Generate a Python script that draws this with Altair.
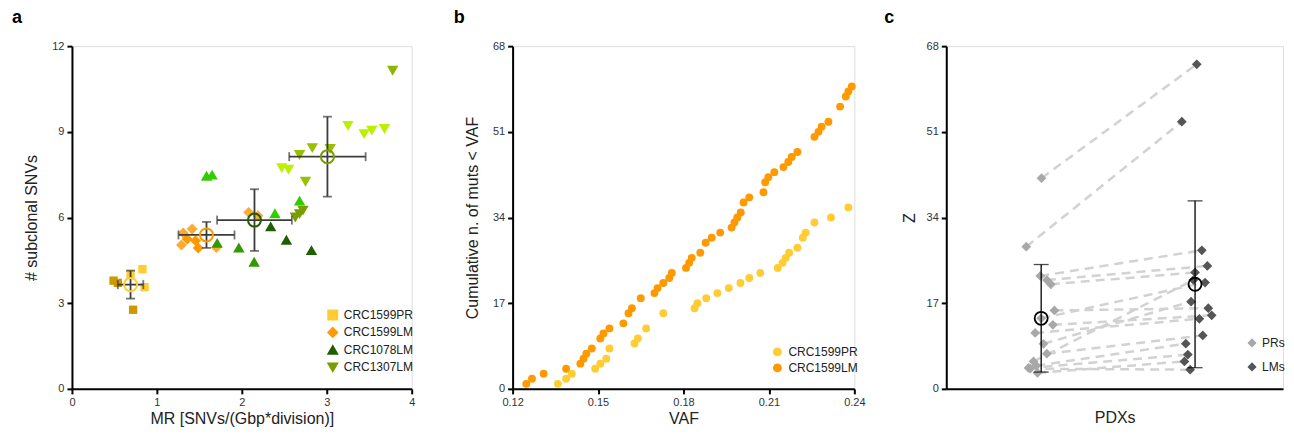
import altair as alt
import pandas as pd

FONT = "Liberation Sans"

# ---------------- Panel a ----------------
A_SERIES = ["CRC1599PR", "CRC1599LM", "CRC1078LM", "CRC1307LM"]
A_COLORS = ["#FFCC33", "#FF9900", "#1F5F00", "#7A9E00"]
A_SHAPES = ["square", "diamond", "triangle-up", "triangle-down"]

pr1599_mr = [0.49, 0.54, 0.72, 0.83, 0.855, 0.69]
pr1599_snv = [3.79, 3.71, 2.77, 4.19, 3.56, 4.02]
pr1599_shade = ["#CC9900", "#CC9900", "#CC9900", "#FFCC33", "#FFCC33", "#FFCC33"]

lm1599_mr = [1.31, 1.415, 1.357, 1.29, 1.455, 1.486, 1.70, 2.08, 2.19]
lm1599_snv = [5.46, 5.60, 5.25, 5.04, 5.19, 4.93, 4.95, 6.18, 6.06]
lm1599_shade = ["#FFAA33", "#FFAA33", "#FF9900", "#FFAA33", "#FF9900", "#FF9900",
                "#FFAA33", "#FFAA33", "#FFAA33"]

lm1078_mr = [1.585, 1.65, 1.71, 1.965, 2.145, 2.39, 2.34, 2.525, 2.82, 2.68]
lm1078_snv = [7.46, 7.50, 5.11, 4.95, 4.45, 6.15, 5.69, 5.22, 4.86, 6.59]
lm1078_shade = ["#33CC00", "#33CC00", "#339900", "#339900", "#339900", "#33CC00",
                "#1F5F00", "#1F5F00", "#1F5F00", "#33CC00"]

lm1307_mr = [3.776, 3.25, 3.44, 3.53, 3.68, 2.83, 3.04, 2.68, 2.47, 2.55, 2.75, 2.63, 2.68, 2.72]
lm1307_snv = [11.14, 9.21, 8.92, 9.04, 9.10, 8.43, 8.40, 8.19, 7.73, 7.67, 7.25, 6.00, 6.12, 6.24]
lm1307_shade = ["#8DB600", "#BBF000", "#BBF000", "#BBF000", "#BBF000", "#99C000", "#99C000",
                "#99C000", "#BBF000", "#BBF000", "#99C000", "#7A9E00", "#7A9E00", "#7A9E00"]

a_mean_mr = [0.69, 1.584, 2.149, 3.008]
a_mean_snv = [3.65, 5.39, 5.91, 8.13]
a_sd_mr = [0.15, 0.33, 0.44, 0.45]
a_sd_snv = [0.49, 0.455, 1.08, 1.40]

# ---------------- Panel b ----------------
B_SERIES = ["CRC1599PR", "CRC1599LM"]
B_COLORS = ["#FFCC33", "#FF9900"]
b_pr_vaf = [0.1359, 0.1388, 0.1408, 0.1490, 0.1508, 0.1529, 0.1540, 0.1628, 0.1640, 0.1669,
            0.1729, 0.1839, 0.1849, 0.1880, 0.1919, 0.1959, 0.2000, 0.2031, 0.2070, 0.2131,
            0.2148, 0.2159, 0.2171, 0.2200, 0.2219, 0.2229, 0.2260, 0.2318, 0.2379]
b_pr_cum = [1, 2, 3, 4, 5, 6, 8, 9, 10, 12, 15, 16, 17, 18, 19, 20, 21, 22, 23, 24,
            25, 26, 27, 28, 30, 31, 33, 34, 36]
b_lm_vaf = [0.1248, 0.1268, 0.1309, 0.1388, 0.1438, 0.1449, 0.1459, 0.1478, 0.1508, 0.1519,
            0.1540, 0.1589, 0.1607, 0.1619, 0.1650, 0.1698, 0.1709, 0.1729, 0.1750, 0.1759,
            0.1809, 0.1820, 0.1829, 0.1859, 0.1878, 0.1899, 0.1929, 0.1969, 0.1979, 0.1989,
            0.2001, 0.2011, 0.2031, 0.2081, 0.2087, 0.2098, 0.2119, 0.2151, 0.2168, 0.2180,
            0.2200, 0.2260, 0.2274, 0.2285, 0.2309, 0.2350, 0.2370, 0.2379, 0.2391]
b_lm_cum = [1, 2, 3, 4, 5, 6, 7, 8, 10, 11, 12, 13, 15, 16, 18, 19, 20, 21, 22, 23,
            24, 25, 26, 27, 29, 30, 31, 32, 33, 34, 35, 37, 38, 39, 41, 42, 43, 44, 45, 46,
            47, 50, 51, 52, 53, 56, 58, 59, 60]

# ---------------- Panel c ----------------
C_GROUPS = ["PRs", "LMs"]
C_COLORS = ["#A8A8A8", "#555555"]
c_pr_pos = [1.002, 0.903, 0.994, 1.037, 1.063, 1.086, 1.000, 1.076, 0.961, 1.015,
            1.037, 0.950, 0.968, 0.918, 0.976, 0.929]
c_pr_z = [41.8, 28.2, 22.4, 21.6, 20.75, 15.55, 14.0, 12.7, 11.1, 8.95,
          6.98, 5.45, 4.6, 4.15, 3.16, 4.0]
c_lm_pos = [2.011, 1.914, 2.044, 2.080, 2.000, 2.086, 2.065, 2.108, 2.028, 1.974,
            2.050, 1.989, 1.940, 1.953, 1.931, 1.968]
c_lm_z = [64.4, 53.0, 27.5, 24.4, 23.1, 16.0, 21.1, 14.6, 13.9, 17.3,
          10.6, 21.6, 8.96, 6.8, 5.45, 3.8]
c_mean_pos = [1.0, 2.0]
c_mean_z = [14.0, 20.75]
c_sd_z = [10.67, 16.55]

# ---------------- styling helpers ----------------
def ax(**kw):
    base = dict(grid=False, domainColor="black", domainWidth=2, tickColor="black",
                tickWidth=2, tickSize=5, labelFont=FONT, labelFontSize=11,
                labelColor="#333333", titleFont=FONT, titleFontSize=16,
                titleFontWeight="normal", titleColor="#222222", labelFlush=False,
                labelPadding=3)
    base.update(kw)
    return alt.Axis(**base)


def panel_title(txt, dx):
    return alt.TitleParams(txt, anchor="start", frame="group", dx=dx, fontSize=18,
                           fontWeight="bold", font=FONT, color="black", offset=13)


W_A, W_B, W_C, H = 340, 342, 337, 343

# ---------------- build panel a ----------------
rows = []
for name, xs, ys, sh in [
    (A_SERIES[0], pr1599_mr, pr1599_snv, pr1599_shade),
    (A_SERIES[1], lm1599_mr, lm1599_snv, lm1599_shade),
    (A_SERIES[2], lm1078_mr, lm1078_snv, lm1078_shade),
    (A_SERIES[3], lm1307_mr, lm1307_snv, lm1307_shade),
]:
    for x, y, s in zip(xs, ys, sh):
        rows.append({"series": name, "mr": x, "snv": y, "shade": s})
df_a = pd.DataFrame(rows)

df_am = pd.DataFrame({"series": A_SERIES, "mx": a_mean_mr, "my": a_mean_snv,
                      "sx": a_sd_mr, "sy": a_sd_snv})
df_am["xlo"] = df_am["mx"] - df_am["sx"]
df_am["xhi"] = df_am["mx"] + df_am["sx"]
df_am["ylo"] = df_am["my"] - df_am["sy"]
df_am["yhi"] = df_am["my"] + df_am["sy"]

xa = alt.X("mr:Q", scale=alt.Scale(domain=[0, 4], nice=False, zero=False),
           axis=ax(values=[0, 1, 2, 3, 4], format="d", title="MR [SNVs/(Gbp*division)]",
                   titlePadding=3))
ya = alt.Y("snv:Q", scale=alt.Scale(domain=[0, 12], nice=False, zero=False),
           axis=ax(values=[0, 3, 6, 9, 12], title="# subclonal SNVs", titlePadding=12))

leg_a = alt.Legend(title=None, orient="none", legendX=255, legendY=263, symbolSize=90,
                   symbolOpacity=1, labelFont=FONT, labelFontSize=12, labelColor="#222222",
                   rowPadding=1.5, labelOffset=5)
a_color = alt.Color("series:N", scale=alt.Scale(domain=A_SERIES, range=A_COLORS), legend=leg_a)
a_shape = alt.Shape("series:N", scale=alt.Scale(domain=A_SERIES, range=A_SHAPES), legend=leg_a)

base_a = alt.Chart(df_a)
legend_layer = base_a.mark_point(filled=True, opacity=0).encode(x=xa, y=ya, color=a_color, shape=a_shape)

SIZES = {"square": 70, "diamond": 120, "triangle-up": 130, "triangle-down": 130}
pt_layers = []
for name, shp in zip(A_SERIES, A_SHAPES):
    pt_layers.append(
        base_a.transform_filter(alt.datum.series == name)
        .mark_point(shape=shp, size=SIZES[shp], filled=True, opacity=1)
        .encode(x=xa, y=ya, fill=alt.Fill("shade:N", scale=None))
    )

bm = alt.Chart(df_am)
EB = "#3C3C3C"
hbar = bm.mark_rule(color=EB, strokeWidth=1.8).encode(x=alt.X("xlo:Q"), x2="xhi:Q", y=alt.Y("my:Q"))
vbar = bm.mark_rule(color=EB, strokeWidth=1.8).encode(x=alt.X("mx:Q"), y=alt.Y("ylo:Q"), y2="yhi:Q")
cap1 = bm.mark_tick(orient="vertical", size=9, thickness=1.8, color=EB).encode(x="xlo:Q", y="my:Q")
cap2 = bm.mark_tick(orient="vertical", size=9, thickness=1.8, color=EB).encode(x="xhi:Q", y="my:Q")
cap3 = bm.mark_tick(orient="horizontal", size=9, thickness=1.8, color=EB).encode(x="mx:Q", y="ylo:Q")
cap4 = bm.mark_tick(orient="horizontal", size=9, thickness=1.8, color=EB).encode(x="mx:Q", y="yhi:Q")
mean_a = bm.mark_point(shape="circle", size=170, filled=False, strokeWidth=2, opacity=1).encode(
    x="mx:Q", y="my:Q",
    color=alt.Color("series:N", scale=alt.Scale(domain=A_SERIES, range=A_COLORS), legend=None))

panel_a = alt.layer(legend_layer, *pt_layers, hbar, vbar, cap1, cap2, cap3, cap4, mean_a).properties(
    width=W_A, height=H, title=panel_title("a", -60))

# ---------------- build panel b ----------------
df_b = pd.concat([
    pd.DataFrame({"series": B_SERIES[1], "vaf": b_lm_vaf, "cum": b_lm_cum}),
    pd.DataFrame({"series": B_SERIES[0], "vaf": b_pr_vaf, "cum": b_pr_cum}),
])
leg_b = alt.Legend(title=None, orient="none", legendX=259, legendY=300, symbolSize=80,
                   symbolType="circle", labelFont=FONT, labelFontSize=12, labelColor="#222222",
                   rowPadding=4, labelOffset=5)
panel_b = alt.Chart(df_b).mark_circle(size=62, opacity=1).encode(
    x=alt.X("vaf:Q", scale=alt.Scale(domain=[0.12, 0.24], nice=False, zero=False),
            axis=ax(values=[0.12, 0.15, 0.18, 0.21, 0.24], format=".2f", title="VAF",
                    titlePadding=3)),
    y=alt.Y("cum:Q", scale=alt.Scale(domain=[0, 68], nice=False, zero=False),
            axis=ax(values=[0, 17, 34, 51, 68], title="Cumulative n. of muts < VAF", titlePadding=12)),
    color=alt.Color("series:N", scale=alt.Scale(domain=B_SERIES, range=B_COLORS), legend=leg_b),
).properties(width=W_B, height=H, title=panel_title("b", -59))

# ---------------- build panel c ----------------
n = len(c_pr_z)
df_c = pd.concat([
    pd.DataFrame({"pdx": list(range(n)), "group": "PRs", "pos": c_pr_pos, "z": c_pr_z}),
    pd.DataFrame({"pdx": list(range(n)), "group": "LMs", "pos": c_lm_pos, "z": c_lm_z}),
])
df_cm = pd.DataFrame({"pos": c_mean_pos, "z": c_mean_z, "sd": c_sd_z})
df_cm["lo"] = df_cm["z"] - df_cm["sd"]
df_cm["hi"] = df_cm["z"] + df_cm["sd"]

xc = alt.X("pos:Q", scale=alt.Scale(domain=[0.3832, 2.5715], nice=False, zero=False),
           axis=ax(labels=False, ticks=False, title="PDXs", titlePadding=21))
yc = alt.Y("z:Q", scale=alt.Scale(domain=[0, 68], nice=False, zero=False),
           axis=ax(values=[0, 17, 34, 51, 68], title="Z", titlePadding=9))

leg_c = alt.Legend(title=None, orient="none", legendX=300, legendY=291, symbolSize=85,
                   labelFont=FONT, labelFontSize=12, labelColor="#222222",
                   rowPadding=12, labelOffset=4)
lines_c = alt.Chart(df_c).mark_line(strokeDash=[9, 6], color="#D2D2D2", strokeWidth=2.5).encode(
    x=xc, y=yc, detail="pdx:N", order="pos:Q")
pts_c = alt.Chart(df_c).mark_point(shape="diamond", filled=True, size=95, opacity=1).encode(
    x=xc, y=yc,
    color=alt.Color("group:N", scale=alt.Scale(domain=C_GROUPS, range=C_COLORS), legend=leg_c))
cm = alt.Chart(df_cm)
vbar_c = cm.mark_rule(color="black", strokeWidth=1.3).encode(x="pos:Q", y="lo:Q", y2="hi:Q")
capc1 = cm.mark_tick(orient="horizontal", size=15, thickness=1.3, color="black").encode(x="pos:Q", y="lo:Q")
capc2 = cm.mark_tick(orient="horizontal", size=15, thickness=1.3, color="black").encode(x="pos:Q", y="hi:Q")
mean_c = cm.mark_point(shape="circle", size=170, filled=False, strokeWidth=1.8, color="black",
                       opacity=1).encode(x="pos:Q", y="z:Q")

panel_c = alt.layer(lines_c, pts_c, vbar_c, capc1, capc2, mean_c).properties(
    width=W_C, height=H, title=panel_title("c", -62))

inner = alt.hconcat(panel_b, panel_c, spacing=92, bounds="flush").resolve_scale(
    color="independent", shape="independent")
chart = alt.hconcat(panel_a, inner, spacing=101, bounds="flush").resolve_scale(
    color="independent", shape="independent", fill="independent"
).properties(
    padding={"left": 3, "top": 0, "right": 0, "bottom": 0}
).configure_view(strokeWidth=0).configure(font=FONT, background="white")

chart.save("out.html", embed_options={"renderer": "svg", "actions": False})
